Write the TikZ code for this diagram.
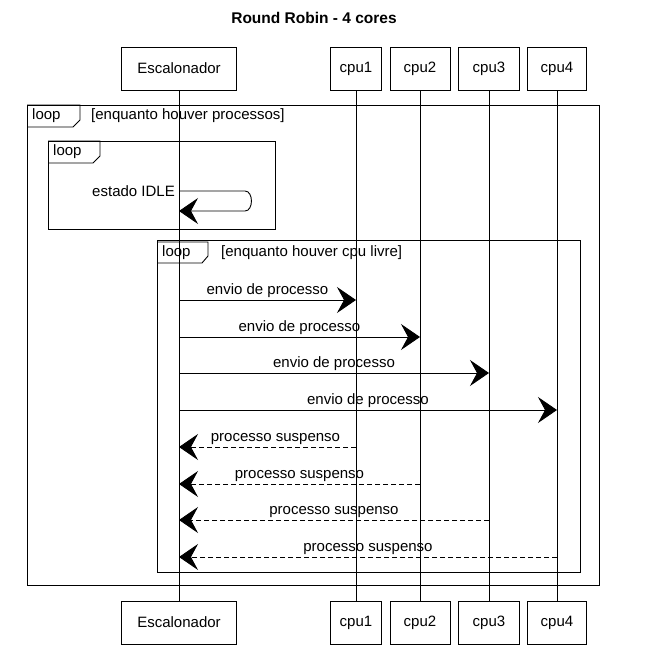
\documentclass[tikz,border=0pt]{standalone}
\usepackage{fontspec}
\setmainfont{Liberation Sans}
\usetikzlibrary{arrows.meta}
\begin{document}
\begin{tikzpicture}[x=1pt,y=-1pt,
  part/.style={draw,line width=0.8pt,minimum height=43pt,inner sep=0pt,font=\fontsize{15}{17}\selectfont},
  lifeline/.style={line width=0.6pt},
  frameline/.style={draw,line width=0.9pt},
  lbl/.style={font=\fontsize{15}{17}\selectfont,inner sep=1pt},
  msg/.style={line width=0.9pt,-{Stealth[length=19pt,width=26pt,inset=7pt]}},
  ret/.style={msg,dashed,dash pattern=on 5pt off 3pt}]
\useasboundingbox (0,0) rectangle (657,651);
\fill[white] (0,0) rectangle (657,651);
% title
\node[font=\bfseries\fontsize{15.5}{17}\selectfont] (title) at (314,18) {Round Robin - 4 cores};
% participants
\node[part,minimum width=115pt] (escT) at (179,68.5) {Escalonador};
\node[part,minimum width=51pt] (c1T) at (356,68.5) {cpu1};
\node[part,minimum width=60pt] (c2T) at (420,68.5) {cpu2};
\node[part,minimum width=61pt] (c3T) at (489,68.5) {cpu3};
\node[part,minimum width=59pt] (c4T) at (557,68.5) {cpu4};
\node[part,minimum width=115pt] (escB) at (179,622.5) {Escalonador};
\node[part,minimum width=51pt] (c1B) at (356,622.5) {cpu1};
\node[part,minimum width=60pt] (c2B) at (420,622.5) {cpu2};
\node[part,minimum width=61pt] (c3B) at (489,622.5) {cpu3};
\node[part,minimum width=59pt] (c4B) at (557,622.5) {cpu4};
% lifelines
\draw[lifeline] (escT.south) -- (escB.north);
\draw[lifeline] (c1T.south) -- (c1B.north);
\draw[lifeline] (c2T.south) -- (c2B.north);
\draw[lifeline] (c3T.south) -- (c3B.north);
\draw[lifeline] (c4T.south) -- (c4B.north);
% outer loop frame
\draw[frameline] (27,105) rectangle (599,585);
\draw[frameline] (27,105) -- (80,105) -- (80,120) -- (73,127) -- (27,127);
\node[lbl,anchor=west] (tab1) at (31,116) {loop};
\node[lbl,anchor=west] (cond1) at (90,116) {[enquanto houver processos]};
% inner loop 1
\draw[frameline] (48,141) rectangle (275,229);
\draw[frameline] (48,141) -- (100,141) -- (100,156) -- (93,163) -- (48,163);
\node[lbl,anchor=west] (tab2) at (52,152) {loop};
\coordinate (idleA) at (179,191);
\coordinate (idleB) at (179,211);
\node[lbl,anchor=east] (idle) at (176,191) {estado IDLE};
\draw[msg] (idleA) -- (245,191) to[out=0,in=0,looseness=1.1] (245,211) -- (idleB);
% inner loop 2
\draw[frameline] (157,240) rectangle (580,572);
\draw[frameline] (157,242) -- (208,242) -- (208,256) -- (202,263) -- (157,263);
\node[lbl,anchor=west] (tab3) at (161,253) {loop};
\node[lbl,anchor=west] (cond3) at (220,253) {[enquanto houver cpu livre]};
% messages
\coordinate (e1) at (179,300); \coordinate (p1) at (356,300);
\coordinate (e2) at (179,337); \coordinate (p2) at (420,337);
\coordinate (e3) at (179,373); \coordinate (p3) at (489,373);
\coordinate (e4) at (179,410); \coordinate (p4) at (557,410);
\draw[msg] (e1) -- node[lbl,above=1pt] (m1) {envio de processo} (p1);
\draw[msg] (e2) -- node[lbl,above=1pt] (m2) {envio de processo} (p2);
\draw[msg] (e3) -- node[lbl,above=1pt] (m3) {envio de processo} (p3);
\draw[msg] (e4) -- node[lbl,above=1pt] (m4) {envio de processo} (p4);
\coordinate (r1) at (356,447); \coordinate (f1) at (179,447);
\coordinate (r2) at (420,484); \coordinate (f2) at (179,484);
\coordinate (r3) at (489,520); \coordinate (f3) at (179,520);
\coordinate (r4) at (557,557); \coordinate (f4) at (179,557);
\draw[ret] (r1) -- node[lbl,above=1pt,xshift=8pt] (s1) {processo suspenso} (f1);
\draw[ret] (r2) -- node[lbl,above=1pt] (s2) {processo suspenso} (f2);
\draw[ret] (r3) -- node[lbl,above=1pt] (s3) {processo suspenso} (f3);
\draw[ret] (r4) -- node[lbl,above=1pt] (s4) {processo suspenso} (f4);
\end{tikzpicture}
\end{document}
